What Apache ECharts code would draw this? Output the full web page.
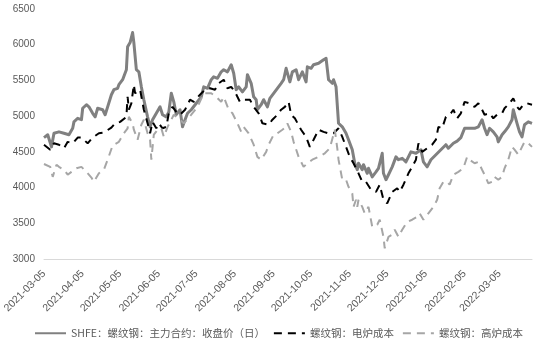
<!DOCTYPE html>
<html>
<head>
<meta charset="utf-8">
<script src="https://cdn.jsdelivr.net/npm/echarts@6/dist/echarts.min.js"></script>
<style>
  html, body { margin: 0; padding: 0; background: #fff; }
  #chart { width: 538px; height: 342px; }
</style>
</head>
<body>
<div id="chart"></div>
<script>
// Date range of the horizontal axis (calendar days)
const firstDay = '2021-03-05';
const lastDay = '2022-03-31';

// y-axis range and step
const yMin = 3000;
const yMax = 6500;
const yStep = 500;

const seriesNames = [
  'SHFE：螺纹钢：主力合约：收盘价（日）',
  '螺纹钢：电炉成本',
  '螺纹钢：高炉成本'
];

// Rebar main contract close price
const shfeClose = [
  ['2021-03-05', 4700], ['2021-03-08', 4740], ['2021-03-11', 4570], ['2021-03-13', 4760],
  ['2021-03-17', 4780], ['2021-03-21', 4760], ['2021-03-25', 4740], ['2021-03-28', 4830],
  ['2021-03-29', 4920], ['2021-04-01', 4970], ['2021-04-04', 4950], ['2021-04-05', 5110],
  ['2021-04-08', 5160], ['2021-04-10', 5130], ['2021-04-13', 5040], ['2021-04-15', 4990],
  ['2021-04-17', 5110], ['2021-04-21', 5090], ['2021-04-23', 5020], ['2021-04-25', 5130],
  ['2021-04-28', 5300], ['2021-04-30', 5370], ['2021-05-03', 5390], ['2021-05-04', 5440],
  ['2021-05-07', 5510], ['2021-05-10', 5650], ['2021-05-11', 5970], ['2021-05-13', 6030],
  ['2021-05-15', 6170], ['2021-05-16', 6030], ['2021-05-18', 5650], ['2021-05-20', 5620],
  ['2021-05-22', 5410], ['2021-05-24', 5230], ['2021-05-27', 4990], ['2021-05-29', 4850],
  ['2021-05-31', 4950], ['2021-06-03', 5040], ['2021-06-06', 5130], ['2021-06-08', 5020],
  ['2021-06-11', 4990], ['2021-06-13', 5060], ['2021-06-15', 5320], ['2021-06-17', 5200],
  ['2021-06-19', 5020], ['2021-06-22', 5090], ['2021-06-24', 4850], ['2021-06-26', 4950],
  ['2021-06-28', 5040], ['2021-07-01', 5090], ['2021-07-05', 5180], ['2021-07-09', 5270],
  ['2021-07-11', 5410], ['2021-07-14', 5390], ['2021-07-17', 5510], ['2021-07-19', 5550],
  ['2021-07-22', 5530], ['2021-07-25', 5620], ['2021-07-27', 5650], ['2021-07-30', 5620],
  ['2021-08-02', 5720], ['2021-08-03', 5740], ['2021-08-04', 5600], ['2021-08-06', 5370],
  ['2021-08-08', 5410], ['2021-08-11', 5340], ['2021-08-14', 5410], ['2021-08-15', 5580],
  ['2021-08-18', 5460], ['2021-08-20', 5270], ['2021-08-22', 5230], ['2021-08-23', 5090],
  ['2021-08-26', 5160], ['2021-08-28', 5230], ['2021-08-31', 5130], ['2021-09-02', 5250],
  ['2021-09-05', 5320], ['2021-09-08', 5390], ['2021-09-11', 5460], ['2021-09-13', 5510],
  ['2021-09-15', 5670], ['2021-09-16', 5650], ['2021-09-18', 5480], ['2021-09-20', 5620],
  ['2021-09-23', 5650], ['2021-09-25', 5510], ['2021-09-28', 5620], ['2021-10-01', 5480],
  ['2021-10-02', 5690], ['2021-10-05', 5670], ['2021-10-07', 5720], ['2021-10-11', 5740],
  ['2021-10-15', 5790], ['2021-10-17', 5810], ['2021-10-19', 5510], ['2021-10-22', 5460],
  ['2021-10-23', 5510], ['2021-10-25', 5410], ['2021-10-27', 4900], ['2021-10-30', 4850],
  ['2021-11-02', 4760], ['2021-11-04', 4670], ['2021-11-07', 4530], ['2021-11-09', 4340],
  ['2021-11-11', 4250], ['2021-11-12', 4340], ['2021-11-15', 4250], ['2021-11-16', 4320],
  ['2021-11-19', 4200], ['2021-11-20', 4270], ['2021-11-23', 4150], ['2021-11-26', 4220],
  ['2021-11-28', 4270], ['2021-12-01', 4480], ['2021-12-02', 4200], ['2021-12-04', 4110],
  ['2021-12-06', 4180], ['2021-12-09', 4290], ['2021-12-12', 4430], ['2021-12-14', 4390],
  ['2021-12-17', 4410], ['2021-12-20', 4360], ['2021-12-24', 4500], ['2021-12-28', 4480],
  ['2022-01-01', 4530], ['2022-01-03', 4360], ['2022-01-06', 4290], ['2022-01-09', 4390],
  ['2022-01-13', 4460], ['2022-01-17', 4530], ['2022-01-21', 4600], ['2022-01-23', 4550],
  ['2022-01-27', 4620], ['2022-01-30', 4650], ['2022-02-02', 4700], ['2022-02-05', 4830],
  ['2022-02-09', 4830], ['2022-02-13', 4830], ['2022-02-16', 4850], ['2022-02-19', 4950],
  ['2022-02-21', 4830], ['2022-02-23', 4740], ['2022-02-25', 4830], ['2022-02-28', 4780],
  ['2022-03-03', 4710], ['2022-03-04', 4640], ['2022-03-07', 4740], ['2022-03-09', 4780],
  ['2022-03-12', 4850], ['2022-03-15', 4950], ['2022-03-16', 5090], ['2022-03-19', 4900],
  ['2022-03-21', 4780], ['2022-03-23', 4710], ['2022-03-25', 4880], ['2022-03-28', 4920],
  ['2022-03-31', 4900]
];

// Electric arc furnace cost
const eafCost = [
  ['2021-03-05', 4600], ['2021-03-10', 4530], ['2021-03-13', 4620], ['2021-03-17', 4600],
  ['2021-03-21', 4550], ['2021-03-24', 4640], ['2021-03-28', 4620], ['2021-04-01', 4700],
  ['2021-04-04', 4700], ['2021-04-09', 4620], ['2021-04-13', 4700], ['2021-04-18', 4760],
  ['2021-04-22', 4770], ['2021-04-28', 4840], ['2021-05-01', 4900], ['2021-05-05', 4920],
  ['2021-05-10', 4990], ['2021-05-11', 5270], ['2021-05-12', 5090], ['2021-05-14', 5180],
  ['2021-05-16', 5440], ['2021-05-17', 5320], ['2021-05-21', 5370], ['2021-05-24', 5090],
  ['2021-05-27', 4900], ['2021-05-29', 4760], ['2021-05-31', 4920], ['2021-06-03', 4830],
  ['2021-06-05', 4900], ['2021-06-08', 4830], ['2021-06-11', 4850], ['2021-06-13', 5040],
  ['2021-06-16', 5130], ['2021-06-19', 5060], ['2021-06-22', 5020], ['2021-06-26', 5090],
  ['2021-06-30', 5230], ['2021-07-03', 5200], ['2021-07-08', 5300], ['2021-07-12', 5370],
  ['2021-07-16', 5390], ['2021-07-20', 5370], ['2021-07-23', 5460], ['2021-07-27', 5510],
  ['2021-07-30', 5390], ['2021-08-02', 5410], ['2021-08-05', 5340], ['2021-08-09', 5200],
  ['2021-08-12', 5230], ['2021-08-17', 5230], ['2021-08-20', 5130], ['2021-08-24', 5040],
  ['2021-08-27', 4900], ['2021-09-01', 4880], ['2021-09-04', 4950], ['2021-09-08', 5020],
  ['2021-09-11', 5090], ['2021-09-14', 5130], ['2021-09-17', 5200], ['2021-09-19', 5020],
  ['2021-09-22', 4970], ['2021-09-27', 4810], ['2021-10-01', 4710], ['2021-10-04', 4570],
  ['2021-10-07', 4670], ['2021-10-11', 4810], ['2021-10-15', 4780], ['2021-10-19', 4760],
  ['2021-10-23', 4760], ['2021-10-27', 4830], ['2021-10-30', 4710], ['2021-11-02', 4570],
  ['2021-11-05', 4430], ['2021-11-08', 4340], ['2021-11-12', 4200], ['2021-11-15', 4080],
  ['2021-11-18', 4080], ['2021-11-22', 3970], ['2021-11-26', 3940], ['2021-11-29', 4040],
  ['2021-12-02', 3830], ['2021-12-05', 3780], ['2021-12-09', 3940], ['2021-12-13', 3990],
  ['2021-12-15', 3940], ['2021-12-18', 4040], ['2021-12-22', 4200], ['2021-12-25', 4290],
  ['2021-12-28', 4390], ['2021-12-30', 4620], ['2022-01-02', 4500], ['2022-01-06', 4550],
  ['2022-01-10', 4600], ['2022-01-13', 4670], ['2022-01-15', 4850], ['2022-01-18', 4830],
  ['2022-01-21', 4990], ['2022-01-25', 5040], ['2022-01-27', 5090], ['2022-01-30', 4970],
  ['2022-02-02', 5040], ['2022-02-05', 5200], ['2022-02-09', 5180], ['2022-02-13', 5130],
  ['2022-02-16', 5180], ['2022-02-19', 5090], ['2022-02-21', 5020], ['2022-02-25', 5040],
  ['2022-02-28', 4970], ['2022-03-03', 5020], ['2022-03-07', 5040], ['2022-03-09', 5110],
  ['2022-03-13', 5180], ['2022-03-16', 5250], ['2022-03-19', 5130], ['2022-03-21', 5090],
  ['2022-03-24', 5160], ['2022-03-27', 5180], ['2022-03-31', 5160]
];

// Blast furnace cost
const bfCost = [
  ['2021-03-05', 4330], ['2021-03-10', 4290], ['2021-03-12', 4150], ['2021-03-15', 4320],
  ['2021-03-17', 4290], ['2021-03-21', 4250], ['2021-03-24', 4180], ['2021-03-27', 4220],
  ['2021-03-31', 4270], ['2021-04-04', 4290], ['2021-04-08', 4220], ['2021-04-12', 4140],
  ['2021-04-14', 4080], ['2021-04-18', 4200], ['2021-04-22', 4250], ['2021-04-25', 4390],
  ['2021-04-29', 4590], ['2021-05-02', 4620], ['2021-05-04', 4640], ['2021-05-08', 4760],
  ['2021-05-11', 4830], ['2021-05-12', 4990], ['2021-05-15', 4900], ['2021-05-16', 4810],
  ['2021-05-19', 4670], ['2021-05-22', 4880], ['2021-05-24', 4950], ['2021-05-27', 4760],
  ['2021-05-29', 4670], ['2021-05-30', 4390], ['2021-06-01', 4740], ['2021-06-04', 4810],
  ['2021-06-07', 4830], ['2021-06-09', 4710], ['2021-06-12', 4850], ['2021-06-15', 4950],
  ['2021-06-17', 5020], ['2021-06-20', 4980], ['2021-06-25', 4900], ['2021-07-01', 5020],
  ['2021-07-06', 5130], ['2021-07-11', 5320], ['2021-07-17', 5320], ['2021-07-21', 5270],
  ['2021-07-25', 5200], ['2021-07-27', 5270], ['2021-07-31', 5090], ['2021-08-03', 5040],
  ['2021-08-07', 4900], ['2021-08-10', 4780], ['2021-08-12', 4850], ['2021-08-16', 4760],
  ['2021-08-20', 4600], ['2021-08-23', 4430], ['2021-08-26', 4390], ['2021-08-30', 4500],
  ['2021-09-01', 4600], ['2021-09-05', 4740], ['2021-09-08', 4760], ['2021-09-12', 4810],
  ['2021-09-15', 4850], ['2021-09-16', 4900], ['2021-09-19', 4780], ['2021-09-21', 4640],
  ['2021-09-25', 4430], ['2021-09-29', 4290], ['2021-10-02', 4340], ['2021-10-06', 4390],
  ['2021-10-11', 4430], ['2021-10-16', 4480], ['2021-10-20', 4550], ['2021-10-24', 4810],
  ['2021-10-26', 4550], ['2021-10-27', 4390], ['2021-10-30', 4110], ['2021-11-02', 4110],
  ['2021-11-04', 4010], ['2021-11-07', 3920], ['2021-11-08', 3730], ['2021-11-10', 3830],
  ['2021-11-11', 3730], ['2021-11-12', 3830], ['2021-11-15', 3730], ['2021-11-17', 3640],
  ['2021-11-20', 3730], ['2021-11-23', 3450], ['2021-11-27', 3480], ['2021-11-29', 3550],
  ['2021-12-02', 3310], ['2021-12-03', 3150], ['2021-12-06', 3310], ['2021-12-09', 3340],
  ['2021-12-11', 3410], ['2021-12-14', 3310], ['2021-12-17', 3410], ['2021-12-21', 3520],
  ['2021-12-25', 3550], ['2021-12-29', 3590], ['2021-12-31', 3640], ['2022-01-03', 3550],
  ['2022-01-07', 3640], ['2022-01-11', 3730], ['2022-01-14', 3830], ['2022-01-16', 3990],
  ['2022-01-19', 4080], ['2022-01-22', 4080], ['2022-01-24', 4040], ['2022-01-27', 4180],
  ['2022-01-31', 4220], ['2022-02-04', 4270], ['2022-02-07', 4430], ['2022-02-09', 4390],
  ['2022-02-13', 4340], ['2022-02-16', 4360], ['2022-02-19', 4250], ['2022-02-21', 4180],
  ['2022-02-24', 4060], ['2022-02-27', 4080], ['2022-03-01', 4150], ['2022-03-04', 4110],
  ['2022-03-07', 4150], ['2022-03-09', 4270], ['2022-03-12', 4390], ['2022-03-15', 4570],
  ['2022-03-17', 4530], ['2022-03-20', 4460], ['2022-03-23', 4570], ['2022-03-25', 4640],
  ['2022-03-28', 4620], ['2022-03-31', 4570]
];

// Build the list of calendar days used as axis categories
function buildDays(from, to) {
  const out = [];
  const d = new Date(from + 'T00:00:00Z');
  const end = new Date(to + 'T00:00:00Z');
  while (d <= end) {
    out.push(d.toISOString().slice(0, 10));
    d.setUTCDate(d.getUTCDate() + 1);
  }
  return out;
}
const days = buildDays(firstDay, lastDay);
const isMonthMark = (idx, val) => val.slice(8) === '05';

const chart = echarts.init(document.getElementById('chart'), null, { renderer: 'canvas' });

const textColor = '#595959';
const latinFont = 'Liberation Sans, Arial, sans-serif';

chart.setOption({
  animation: false,
  backgroundColor: '#ffffff',
  grid: { left: 43, right: 6, top: 9, bottom: 83, containLabel: false },
  legend: {
    left: 29,
    top: 323,
    itemWidth: 31,
    itemHeight: 12,
    itemGap: 8,
    // show only the line sample, no marker in the middle
    itemStyle: { opacity: 0 },
    textStyle: { color: textColor, fontSize: 10.5, fontFamily: 'Noto Sans CJK SC, sans-serif' },
    data: seriesNames
  },
  xAxis: {
    type: 'category',
    data: days,
    boundaryGap: false,
    axisLine: { lineStyle: { color: '#d9d9d9', width: 1 } },
    axisTick: { show: false },
    splitLine: { show: false },
    axisLabel: {
      rotate: 45, interval: isMonthMark, margin: 13,
      color: textColor, fontFamily: latinFont, fontSize: 10.5
    }
  },
  yAxis: {
    type: 'value',
    min: yMin,
    max: yMax,
    interval: yStep,
    axisLine: { show: false },
    axisTick: { show: false },
    splitLine: { show: false },
    axisLabel: {
      margin: 9, formatter: v => String(v),
      color: textColor, fontFamily: latinFont, fontSize: 10
    }
  },
  series: [
    {
      name: seriesNames[0], type: 'line', data: shfeClose, symbol: 'none',
      lineStyle: { color: '#808080', width: 3, join: 'round' },
      itemStyle: { color: '#808080' }
    },
    {
      name: seriesNames[1], type: 'line', data: eafCost, symbol: 'none',
      lineStyle: { color: '#000000', width: 2, type: [8, 6] },
      itemStyle: { color: '#000000' }
    },
    {
      name: seriesNames[2], type: 'line', data: bfCost, symbol: 'none',
      lineStyle: { color: '#a6a6a6', width: 2, type: [8, 6] },
      itemStyle: { color: '#a6a6a6' }
    }
  ]
});
</script>
</body>
</html>
